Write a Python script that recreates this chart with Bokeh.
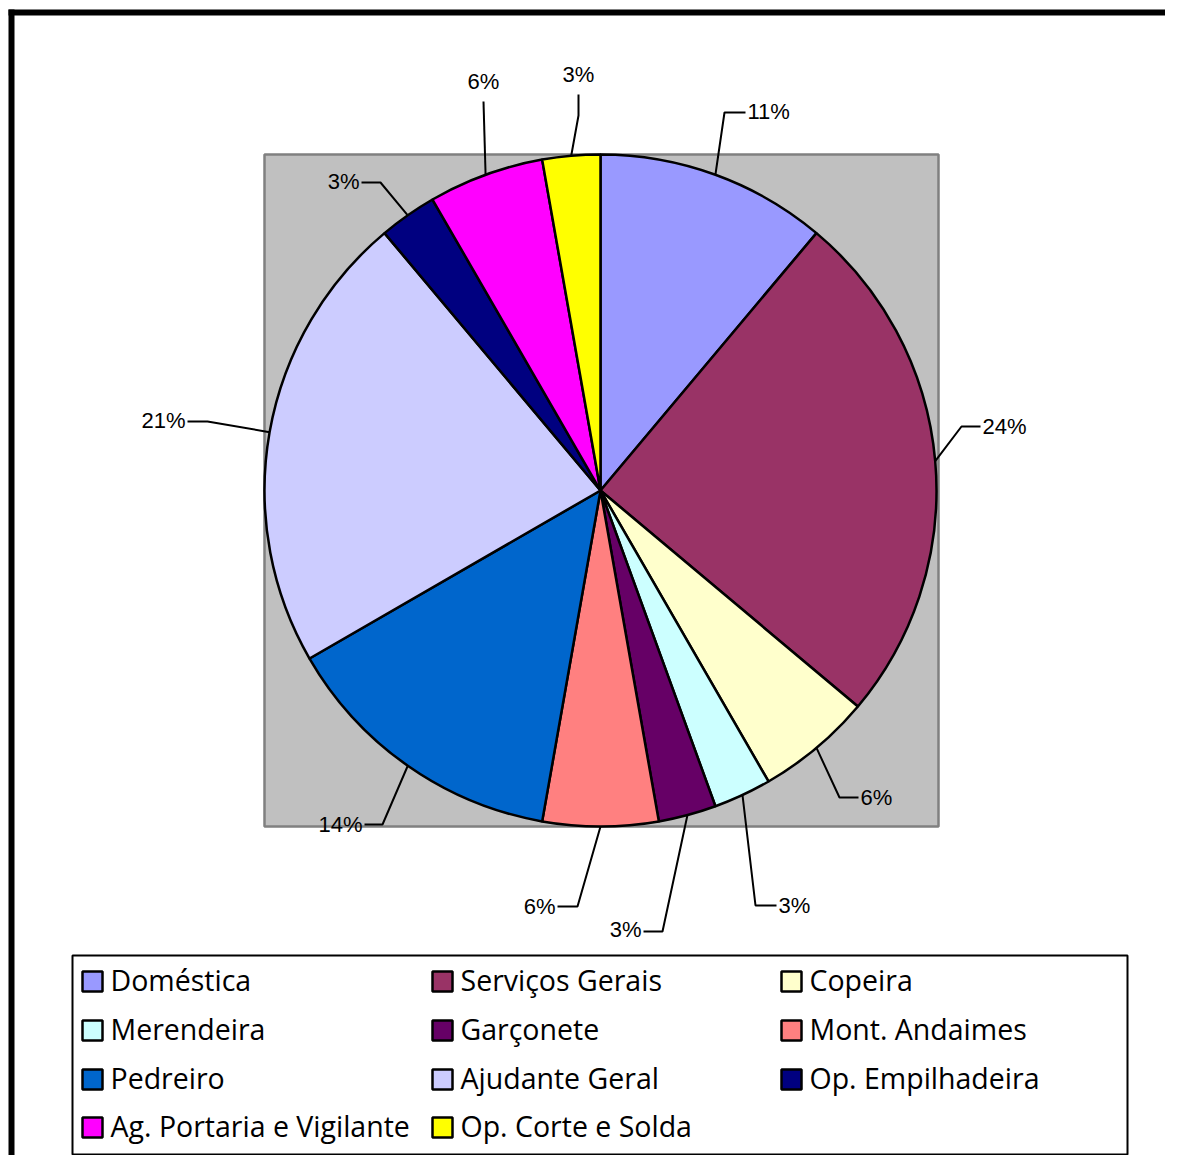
import numpy as np
from bokeh.plotting import figure
from bokeh.models import Range1d
from bokeh.core.properties import value
from bokeh.embed import file_html
from bokeh.resources import INLINE

# ---- data ----
categories = ["Doméstica", "Serviços Gerais", "Copeira", "Merendeira", "Garçonete",
              "Mont. Andaimes", "Pedreiro", "Ajudante Geral", "Op. Empilhadeira",
              "Ag. Portaria e Vigilante", "Op. Corte e Solda"]
counts = [4, 9, 2, 1, 1, 2, 5, 8, 1, 2, 1]
pct_labels = ["11%", "24%", "6%", "3%", "3%", "6%", "14%", "21%", "3%", "6%", "3%"]
colors = ["#9999FF", "#993366", "#FFFFCC", "#CCFFFF", "#660066", "#FF8080",
          "#0066CC", "#CCCCFF", "#000080", "#FF00FF", "#FFFF00"]

# ---- layout (screen pixel coordinates) ----
W, H = 1165, 1155
CX, CY, R = 600, 490, 336
# label leader elbows / ends / text anchors (px) and text alignment
label_layout = [
    ((724, 112), (745, 112), (747, 111), "left"),
    ((961, 426), (980, 426), (982, 426), "left"),
    ((839, 797), (858, 797), (860, 797), "left"),
    ((755, 905), (776, 905), (778, 905), "left"),
    ((662, 931), (643, 931), (641, 929), "right"),
    ((577, 906), (557, 906), (555, 906), "right"),
    ((382, 824), (364, 824), (362, 824), "right"),
    ((207, 421), (187, 421), (185, 420), "right"),
    ((380, 182), (361, 182), (359, 181), "right"),
    ((483, 101), (483, 101), (483, 81), "center"),
    ((578, 115), (578, 94), (578, 74), "center"),
]


def Y(py):
    return H - py


p = figure(width=W, height=H, output_backend="svg", toolbar_location=None,
           x_axis_type=None, y_axis_type=None,
           x_range=Range1d(0, W), y_range=Range1d(0, H),
           min_border=0)
p.outline_line_color = None
p.background_fill_color = "white"
p.border_fill_color = "white"

# outer frame (top and left visible)
p.quad(left=8, right=W, top=Y(9), bottom=Y(15), fill_color="black", line_color=None)
p.quad(left=8, right=14, top=Y(9), bottom=Y(H), fill_color="black", line_color=None)

# plot area
p.quad(left=264, right=938, top=Y(154), bottom=Y(826), fill_color="#C0C0C0",
       line_color="#808080", line_width=2.5)

# pie
total = float(sum(counts))
cum = np.cumsum([0] + counts) / total * 360.0
th_start = cum[:-1]
th_end = cum[1:]
th_mid = (th_start + th_end) / 2
p.wedge(x=CX, y=Y(CY), radius=R,
        start_angle=np.radians(90 - th_end), end_angle=np.radians(90 - th_start),
        fill_color=colors, line_color="black", line_width=2.5)

# leaders + labels
for i, lab in enumerate(pct_labels):
    sx = CX + R * np.sin(np.radians(th_mid[i]))
    sy = CY - R * np.cos(np.radians(th_mid[i]))
    (ex, ey), (fx, fy), (tx, ty), align = label_layout[i]
    p.line([sx, ex, fx], [Y(sy), Y(ey), Y(fy)], line_color="black", line_width=2)
    p.text(x=[tx], y=[Y(ty)], text=[lab], text_font=value("Liberation Sans"),
           text_font_size="22px", text_align=align, text_baseline="middle",
           text_color="black")

# legend
LX0, LY0, LX1, LY1 = 72, 955, 1127, 1155 - 1
p.quad(left=LX0, right=LX1, top=Y(LY0), bottom=Y(LY1), fill_color="white",
       line_color="black", line_width=2)
col_x = [82, 432, 781]
row_y = [981, 1030, 1079, 1127]
sw = 20
for i, name in enumerate(categories):
    c, r = i % 3, i // 3
    x0, yc = col_x[c], row_y[r]
    p.quad(left=x0, right=x0 + sw, top=Y(yc - sw / 2), bottom=Y(yc + sw / 2),
           fill_color=colors[i], line_color="black", line_width=2.5)
    p.text(x=[x0 + 28], y=[Y(yc - 2)], text=[name], text_font=value("Open Sans"),
           text_font_size="28.5px", text_align="left", text_baseline="middle",
           text_color="black")

open("out.html", "w").write(file_html(p, INLINE))
